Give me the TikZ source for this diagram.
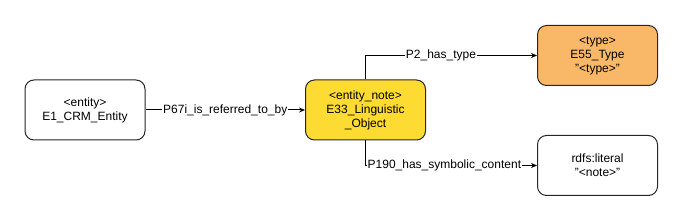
\documentclass[tikz,border=0pt]{standalone}
\usepackage{fontspec}
\setmainfont{Liberation Sans}
\usetikzlibrary{arrows.meta}
\definecolor{noteyellow}{HTML}{FDDB32}
\definecolor{typeorange}{HTML}{F9B867}

\begin{document}
\begin{tikzpicture}[x=1pt, y=-1pt, >={Stealth[length=6pt,width=5pt]},
    every node/.style={font=\fontsize{12}{14}\selectfont},
    cbox/.style={draw=black!85, line width=1pt, rounded corners=9pt, align=center,
        minimum width=120pt, minimum height=60pt, inner sep=0pt},
    rel/.style={fill=white, inner sep=1pt}]
    \useasboundingbox (0,0) rectangle (684,221);

    \node[cbox, fill=white] (entity) at (85,110) {<entity>\\E1\_CRM\_Entity};
    \node[cbox, fill=noteyellow] (note) at (365.5,110) {<entity\_note>\\E33\_Linguistic\\\_Object};
    \node[cbox, fill=typeorange] (type) at (597.5,55.5) {<type>\\E55\_Type\\"<type>"};
    \node[cbox, fill=white] (literal) at (597.5,165.5) {rdfs:literal\\"<note>"};

    \draw[->, line width=1pt] (entity) -- node[rel] {P67i\_is\_referred\_to\_by} (note);
    \draw[->, line width=1pt] (note.north) |- node[rel, pos=0.72] {P2\_has\_type} (type.west);
    \draw[->, line width=1pt] (note.south) |- node[rel, pos=0.73] {P190\_has\_symbolic\_content} (literal.west);
\end{tikzpicture}
\end{document}
